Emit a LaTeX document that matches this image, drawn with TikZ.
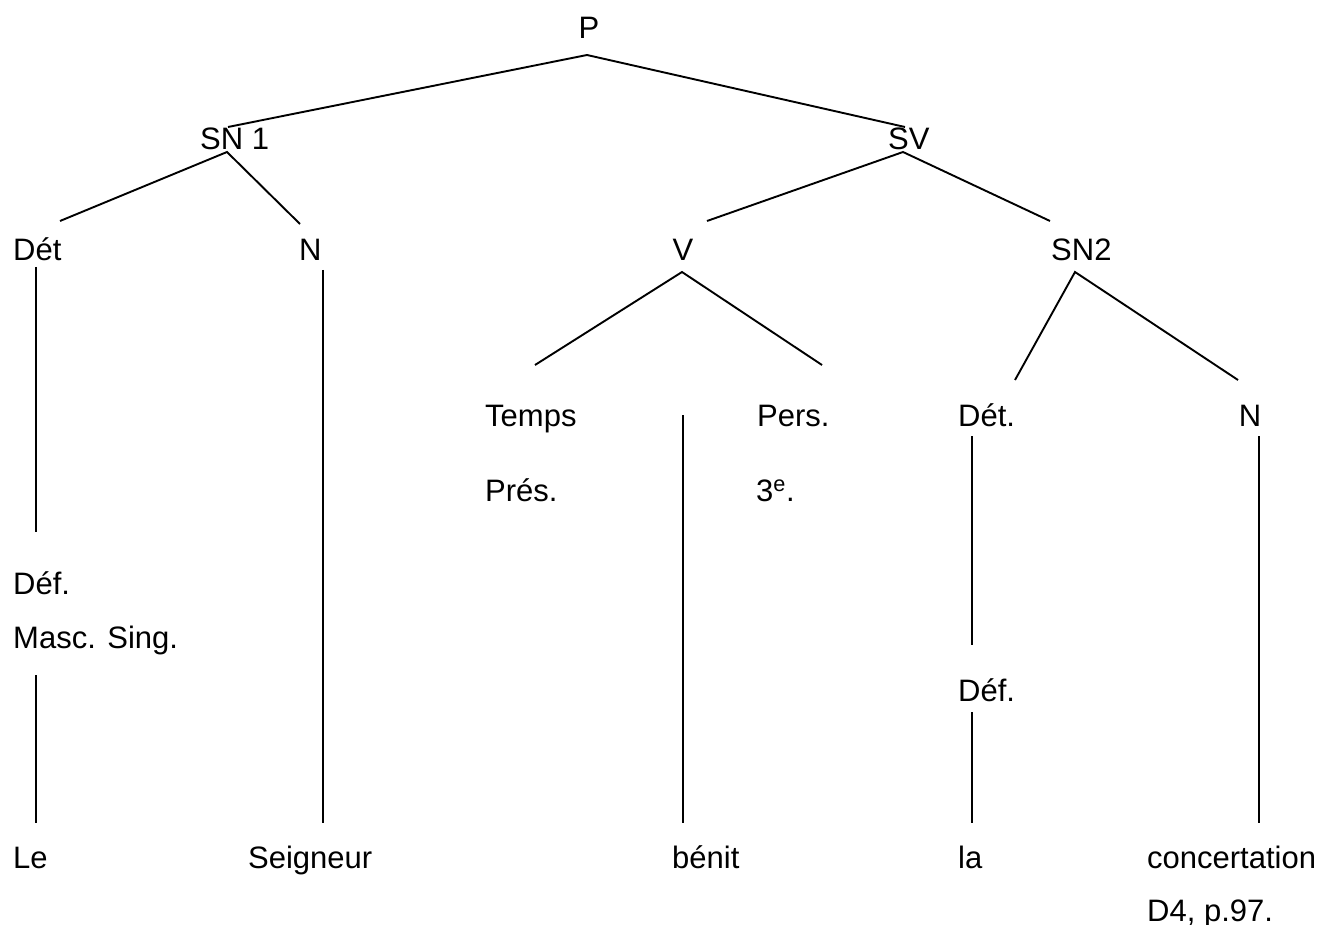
\documentclass[tikz,border=0pt]{standalone}
\usepackage{fontspec}
\setmainfont{Liberation Sans}
\begin{document}
\begin{tikzpicture}[x=1pt,y=-1pt,
  lbl/.style={inner sep=0pt, font=\fontsize{31}{37}\selectfont, anchor=base west},
  ctr/.style={inner sep=0pt, font=\fontsize{31}{37}\selectfont, anchor=base},
  ln/.style={line width=1.9pt, black}]
\useasboundingbox (0,0) rectangle (1322,925);
% labels
\node[ctr] (P) at (589,39) {P};
\node[lbl] (SN1) at (200,150) {SN 1};
\node[lbl] (SV) at (888,150) {SV};
\node[lbl] (Det) at (13,261) {Dét};
\node[lbl] (N1) at (299,261) {N};
\node[ctr] (V) at (683,261) {V};
\node[lbl] (SN2) at (1051,261) {SN2};
\node[lbl] (Temps) at (485,426) {Temps};
\node[lbl] (Pers) at (757,426) {Pers.};
\node[lbl] (Det2) at (958,426) {Dét.};
\node[ctr] (N2) at (1250,426) {N};
\node[lbl] (Pres) at (485,501) {Prés.};
\node[lbl] (Trois) at (756,501) {3\textsuperscript{e}.};
\node[lbl] (Def1) at (13,594) {Déf.};
\node[lbl] (Masc) at (13,648) {Masc. Sing.};
\node[lbl] (Def2) at (958,701) {Déf.};
\node[lbl] (Le) at (13,868) {Le};
\node[lbl] (Seig) at (248,868) {Seigneur};
\node[lbl] (benit) at (672,868) {bénit};
\node[lbl] (la) at (958,868) {la};
\node[lbl] (conc) at (1147,868) {concertation};
\node[lbl] (ref) at (1147,921) {D4, p.97.};
% connector end points
\coordinate (Pb) at (587,55);
\coordinate (SN1t) at (228,127);
\coordinate (SN1b) at (227,152);
\coordinate (SVt) at (905,127);
\coordinate (SVb) at (903,152);
\coordinate (Dett) at (60,221);
\coordinate (N1t) at (300,224);
\coordinate (Vt) at (707,221);
\coordinate (SN2t) at (1050,221);
\coordinate (Vb) at (682,272);
\coordinate (Tempst) at (535,365);
\coordinate (Perst) at (822,365);
\coordinate (SN2b) at (1075,272);
\coordinate (Det2t) at (1015,380);
\coordinate (N2t) at (1238,380);
\coordinate (Detb) at (36,267);
\coordinate (Def1t) at (36,532);
\coordinate (Mascb) at (36,675);
\coordinate (Let) at (36,823);
\coordinate (N1b) at (323,270);
\coordinate (Seigt) at (323,823);
\coordinate (benittop) at (683,415);
\coordinate (benitt) at (683,823);
\coordinate (Det2b) at (972,436);
\coordinate (Def2t) at (972,645);
\coordinate (Def2b) at (972,712);
\coordinate (lat) at (972,823);
\coordinate (N2b) at (1259,436);
\coordinate (conct) at (1259,823);
% connectors
\draw[ln] (SN1t) -- (Pb) -- (SVt);
\draw[ln] (Dett) -- (SN1b) -- (N1t);
\draw[ln] (Vt) -- (SVb) -- (SN2t);
\draw[ln] (Tempst) -- (Vb) -- (Perst);
\draw[ln] (Det2t) -- (SN2b) -- (N2t);
\draw[ln] (Detb) -- (Def1t);
\draw[ln] (Mascb) -- (Let);
\draw[ln] (N1b) -- (Seigt);
\draw[ln] (benittop) -- (benitt);
\draw[ln] (Det2b) -- (Def2t);
\draw[ln] (Def2b) -- (lat);
\draw[ln] (N2b) -- (conct);
\end{tikzpicture}
\end{document}
